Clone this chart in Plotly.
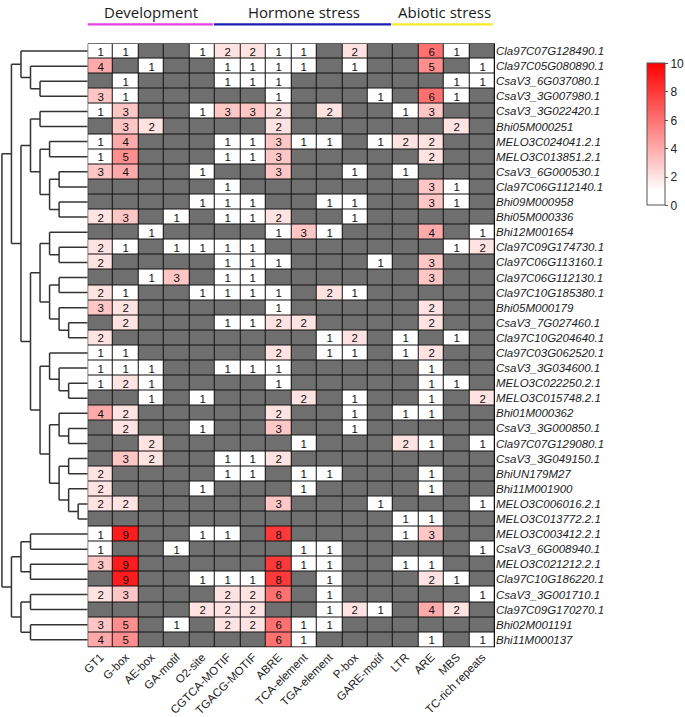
import plotly.graph_objects as go
import numpy as np

W, H = 685, 717

motifs = ["GT1", "G-box", "AE-box", "GA-motif", "O2-site", "CGTCA-MOTIF", "TGACG-MOTIF", "ABRE",
          "TCA-element", "TGA-element", "P-box", "GARE-motif", "LTR", "ARE", "MBS", "TC-rich repeats"]

genes = ["Cla97C07G128490.1", "Cla97C05G080890.1", "CsaV3_6G037080.1", "CsaV3_3G007980.1",
         "CsaV3_3G022420.1", "Bhi05M000251", "MELO3C024041.2.1", "MELO3C013851.2.1",
         "CsaV3_6G000530.1", "Cla97C06G112140.1", "Bhi09M000958", "Bhi05M000336",
         "Bhi12M001654", "Cla97C09G174730.1", "Cla97C06G113160.1", "Cla97C06G112130.1",
         "Cla97C10G185380.1", "Bhi05M000179", "CsaV3_7G027460.1", "Cla97C10G204640.1",
         "Cla97C03G062520.1", "CsaV3_3G034600.1", "MELO3C022250.2.1", "MELO3C015748.2.1",
         "Bhi01M000362", "CsaV3_3G000850.1", "Cla97C07G129080.1", "CsaV3_3G049150.1",
         "BhiUN179M27", "Bhi11M001900", "MELO3C006016.2.1", "MELO3C013772.2.1",
         "MELO3C003412.2.1", "CsaV3_6G008940.1", "MELO3C021212.2.1", "Cla97C10G186220.1",
         "CsaV3_3G001710.1", "Cla97C09G170270.1", "Bhi02M001191", "Bhi11M000137"]

# counts per motif (0 = absent, drawn grey)
gt1   = [1,4,0,3,1,0,1,1,3,0, 0,2,0,2,2,0,2,3,0,2, 1,1,1,0,4,0,0,0,2,2, 2,0,1,1,3,0,2,0,3,4]
gbox  = [1,0,1,1,3,3,4,5,4,0, 0,3,0,1,0,0,1,2,2,0, 1,1,2,0,2,2,0,3,0,0, 2,0,9,0,9,9,3,0,5,5]
aebox = [0,1,0,0,0,2,0,0,0,0, 0,0,1,0,0,1,0,0,0,0, 0,1,1,1,0,0,2,2,0,0, 0,0,0,0,0,0,0,0,0,0]
gamot = [0,0,0,0,0,0,0,0,0,0, 0,1,0,1,0,3,0,0,0,0, 0,0,0,0,0,0,0,0,0,0, 0,0,0,1,0,0,0,0,1,0]
o2    = [1,0,0,0,1,0,0,0,1,0, 1,0,0,1,0,0,1,0,0,0, 0,0,0,1,0,1,0,0,0,1, 0,0,1,0,0,1,0,2,0,0]
cgtca = [2,1,1,0,3,0,1,1,0,1, 1,1,0,1,1,1,1,0,1,0, 0,1,0,0,0,0,0,1,1,0, 0,0,1,0,0,1,2,2,2,0]
tgacg = [2,1,1,0,3,0,1,1,0,0, 1,1,0,1,1,1,1,0,1,0, 0,1,0,0,0,0,0,1,1,0, 0,0,0,0,0,1,2,2,2,0]
abre  = [1,1,1,1,2,2,3,3,3,0, 0,2,1,0,1,0,1,1,2,0, 2,1,1,0,2,3,0,2,0,0, 3,0,8,0,8,8,6,0,6,6]
tca   = [1,1,0,0,0,0,1,0,0,0, 0,0,3,0,0,0,0,0,2,0, 0,0,0,2,0,0,1,0,1,1, 0,0,0,1,1,0,0,0,1,1]
tga   = [0,0,0,0,2,0,1,0,0,0, 1,0,1,0,0,0,2,0,0,1, 1,0,0,0,0,0,0,0,1,0, 0,0,0,1,1,1,1,1,1,0]
pbox  = [2,1,0,0,0,0,0,0,1,0, 1,1,0,0,0,0,1,0,0,2, 1,0,0,1,1,1,0,0,0,0, 0,0,0,0,0,0,0,2,0,0]
gare  = [0,0,0,1,0,0,1,0,0,0, 0,0,0,0,1,0,0,0,0,0, 0,0,0,0,0,0,0,0,0,0, 1,0,0,0,0,0,0,1,0,0]
ltr   = [0,0,0,0,1,0,2,0,1,0, 0,0,0,0,0,0,0,0,0,1, 1,0,0,0,1,0,2,0,0,0, 0,1,1,0,1,0,0,0,0,0]
are   = [6,5,0,6,3,0,2,2,0,3, 3,0,4,0,3,3,0,2,2,0, 2,1,1,1,1,0,1,0,1,1, 0,1,3,0,1,2,0,4,0,1]
mbs   = [1,0,1,1,0,2,0,0,0,1, 1,0,0,1,0,0,0,0,0,1, 0,0,1,0,0,0,0,0,0,0, 0,0,0,0,0,1,0,2,0,0]
tcrich= [0,1,1,0,0,0,0,0,0,0, 0,0,1,2,0,0,0,0,0,0, 0,0,0,2,0,0,1,0,0,0, 1,0,0,1,0,0,1,0,0,1]

columns = [gt1, gbox, aebox, gamot, o2, cgtca, tgacg, abre, tca, tga, pbox, gare, ltr, are, mbs, tcrich]

groups = [("Development", 0, 4, "#e442e4"),
          ("Hormone stress", 5, 11, "#1c1cb4"),
          ("Abiotic stress", 12, 15, "#f2ec2a")]

# dendrogram (row indices, nested pairs)
tree = (
    ((0, (1, (2, 3))),
     (((4, 5), ((6, 7), ((8, 9), (10, 11)))),
      (((12, (13, 14)), ((15, 16), (17, (18, 19)))),
       ((20, (21, (22, 23))), ((24, (25, 26)), ((27, 28), (29, (30, 31)))))))),
    (((32, 33), (34, 35)), ((36, 37), (38, 39)))
)

Z = np.array(columns, dtype=float).T  # rows x motifs
nr, nc = Z.shape
val = np.where(Z > 0, Z, np.nan)
miss = np.where(Z > 0, np.nan, 1.0)
txt = [[("%d" % Z[i, j]) if Z[i, j] > 0 else "" for j in range(nc)] for i in range(nr)]

# pixel layout
gx0, gx1 = 87.7, 495.0
gy0, gy1 = 43.5, 647.3
dom_x = [gx0 / W, gx1 / W]
dom_y = [1 - gy1 / H, 1 - gy0 / H]

fig = go.Figure()
fig.add_trace(go.Heatmap(
    z=miss, x=list(range(nc)), y=list(range(nr)),
    colorscale=[[0, "#6f6f6f"], [1, "#6f6f6f"]], showscale=False,
    xgap=1, ygap=1, hoverinfo="skip", xaxis="x", yaxis="y"))
fig.add_trace(go.Heatmap(
    z=val, x=list(range(nc)), y=list(range(nr)), text=txt, texttemplate="%{text}",
    textfont=dict(family="Liberation Sans, Arial", size=11.5, color="#111"),
    colorscale=[[0, "#ffffff"], [0.1, "#ffffff"], [1, "#ff0000"]], zmin=0, zmax=10,
    xgap=1, ygap=1, xaxis="x", yaxis="y",
    colorbar=dict(x=647 / W, xanchor="left", xpad=0, ypad=0, y=1 - 63.5 / H, yanchor="top",
                  len=(205.5 - 63.5) / H, lenmode="fraction", thickness=18,
                  outlinecolor="#555", outlinewidth=1, tickvals=[0, 2, 4, 6, 8, 10],
                  ticks="outside", ticklen=3, tickcolor="#555",
                  tickfont=dict(family="Liberation Sans, Arial", size=12, color="#222"))))

# dendrogram lines computed from tree structure
LEAF_DEPTH = 9
xs, ys = [], []

def walk(node, depth):
    if isinstance(node, int):
        return LEAF_DEPTH, float(node)
    cpos = [walk(c, depth + 1) for c in node]
    cy = [p[1] for p in cpos]
    xs.extend([depth, depth, None]); ys.extend([min(cy), max(cy), None])
    for cx, yy in cpos:
        xs.extend([depth, cx, None]); ys.extend([yy, yy, None])
    return depth, sum(cy) / len(cy)

walk(tree, 0)
fig.add_trace(go.Scatter(x=xs, y=ys, mode="lines", line=dict(color="#333", width=1.5),
                         hoverinfo="skip", showlegend=False, xaxis="x2", yaxis="y2"))

shapes = [
    dict(type="rect", xref="x", yref="y", x0=-0.5, x1=nc - 0.5, y0=-0.5, y1=nr - 0.5,
         fillcolor="#111", line=dict(width=0), layer="below"),
    dict(type="rect", xref="x", yref="y", x0=-0.5, x1=nc - 0.5, y0=-0.5, y1=nr - 0.5,
         line=dict(color="#111", width=1), layer="above"),
]
annotations = []
for name, a, b, col in groups:
    shapes.append(dict(type="line", xref="x", yref="paper", x0=a - 0.54, x1=b + 0.42,
                       y0=1 - 24.3 / H, y1=1 - 24.3 / H, line=dict(color=col, width=2.2)))
    annotations.append(dict(text=name, xref="x", yref="paper", x=(a + b) / 2, y=1 - 12 / H,
                            showarrow=False, xanchor="center", yanchor="middle",
                            font=dict(family="Open Sans", size=15, color="#1a1a1a")))

fig.update_layout(
    width=W, height=H, margin=dict(l=0, r=0, t=0, b=0, autoexpand=False),
    paper_bgcolor="white", plot_bgcolor="white", showlegend=False,
    xaxis=dict(domain=dom_x, range=[-0.5, nc - 0.5], tickvals=list(range(nc)), ticktext=motifs,
               tickangle=-45, showgrid=False, zeroline=False, ticks="", anchor="y", automargin=False,
               tickfont=dict(family="Liberation Sans, Arial", size=11.5, color="#222")),
    yaxis=dict(domain=dom_y, range=[nr - 0.5, -0.5], tickvals=list(range(nr)), ticktext=genes,
               side="right", showgrid=False, zeroline=False, ticks="", anchor="x", automargin=False,
               tickfont=dict(family="Liberation Sans, Arial", size=11.5, color="#222", style="italic")),
    xaxis2=dict(domain=[0, gx0 / W], range=[-0.2, LEAF_DEPTH], visible=False, anchor="y2"),
    yaxis2=dict(domain=dom_y, range=[nr - 0.5, -0.5], visible=False, anchor="x2"),
    shapes=shapes, annotations=annotations,
)

fig.write_html("out.html", config={"displayModeBar": False},
               post_script="document.body.style.margin='0';")
